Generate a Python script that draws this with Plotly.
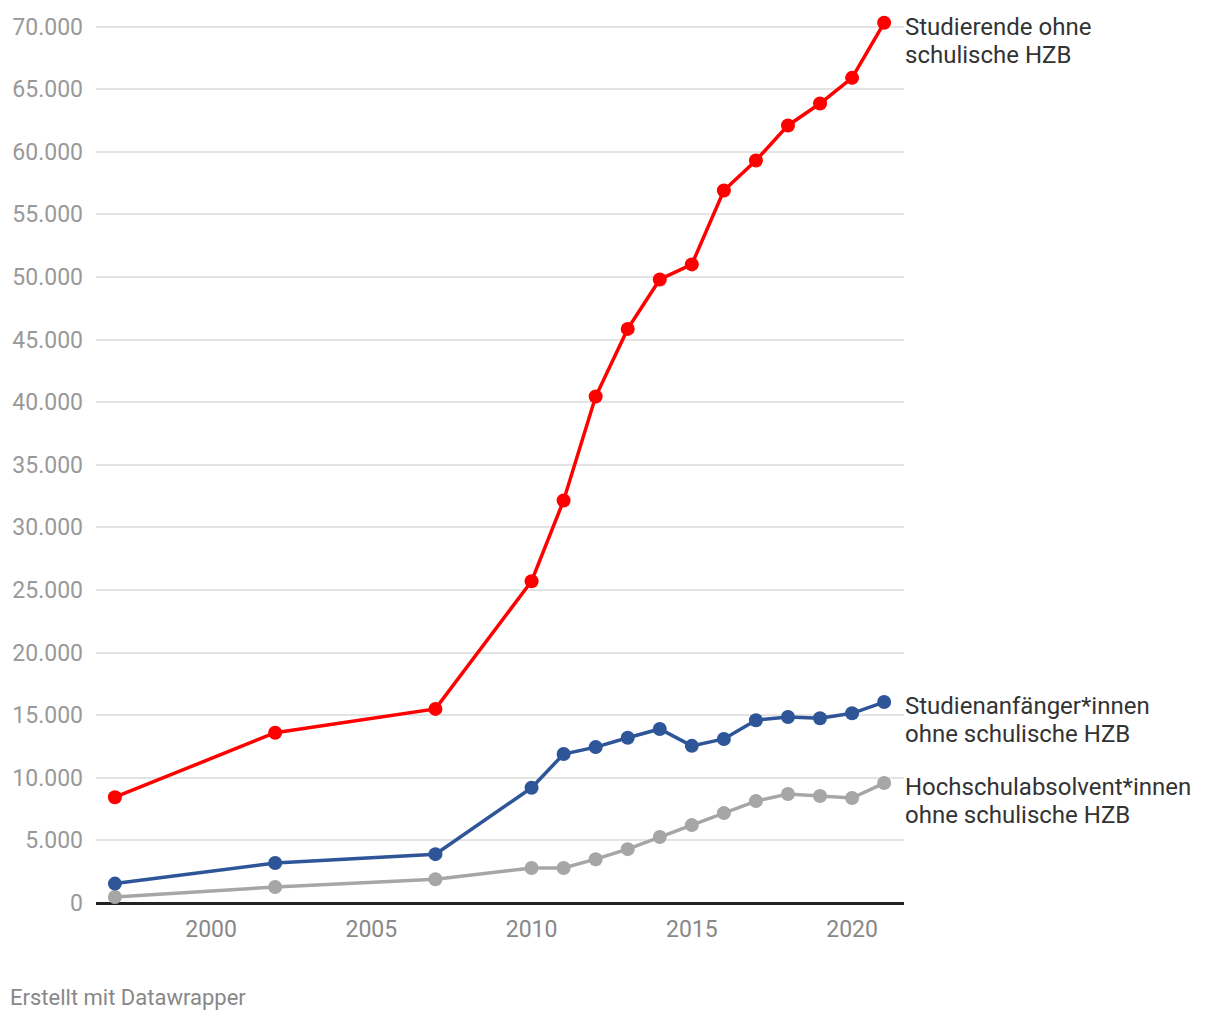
import plotly.graph_objects as go

years = [1997, 2002, 2007, 2010, 2011, 2012, 2013, 2014, 2015, 2016, 2017, 2018, 2019, 2020, 2021]
studierende = [8450, 13600, 15500, 25700, 32150, 40450, 45850, 49800, 51000, 56900, 59300, 62100, 63850, 65900, 70300]
anfaenger = [1550, 3200, 3900, 9200, 11900, 12450, 13200, 13900, 12550, 13100, 14600, 14850, 14750, 15150, 16050]
absolventen = [480, 1280, 1900, 2800, 2800, 3500, 4300, 5270, 6220, 7180, 8140, 8700, 8540, 8380, 9580]

series = [
    (["Studierende ohne", "schulische HZB"], studierende, "#ff0000"),
    (["Studienanfänger*innen", "ohne schulische HZB"], anfaenger, "#2d5598"),
    (["Hochschulabsolvent*innen", "ohne schulische HZB"], absolventen, "#a6a6a6"),
]

fig = go.Figure()
for lines, vals, col in series[::-1]:
    fig.add_trace(go.Scatter(
        x=years, y=vals, mode="lines+markers", name=" ".join(lines),
        line=dict(color=col, width=3.5), marker=dict(color=col, size=14),
        cliponaxis=False, showlegend=False,
    ))

for lines, vals, col in series:
    for i, txt in enumerate(lines):
        fig.add_annotation(
            x=1, xref="paper", y=vals[-1], yref="y", text=txt, showarrow=False,
            xanchor="left", yanchor="middle", align="left", xshift=-1,
            yshift=-4 - 28 * i,
            font=dict(family="Roboto", size=24, color="#333333"),
        )

fig.add_annotation(
    x=0, xref="paper", xanchor="left", y=0, yref="paper", yanchor="middle",
    xshift=-88, yshift=-94, text="Erstellt mit Datawrapper", showarrow=False,
    font=dict(family="Roboto", size=22, color="#888888"),
)

fig.update_layout(
    width=1204, height=1004,
    margin=dict(l=88, r=308, t=5.5, b=109),
    paper_bgcolor="white", plot_bgcolor="white",
    separators=",.",
    font=dict(family="Roboto", size=23, color="#999999"),
    xaxis=dict(
        range=[1996.41, 2021.62], tickvals=[2000, 2005, 2010, 2015, 2020],
        showgrid=False, zeroline=False, showline=False, ticks="",
        ticklabelstandoff=10,
        tickfont=dict(family="Roboto", size=23, color="#888888"),
    ),
    yaxis=dict(
        range=[0, 71000], tickvals=list(range(0, 70001, 5000)), tickformat=",.0f",
        showgrid=True, gridcolor="#e3e3e3", gridwidth=1.5,
        zeroline=True, zerolinecolor="#222222", zerolinewidth=2.5,
        ticks="", ticklabelstandoff=12,
        tickfont=dict(family="Roboto", size=23, color="#999999"),
    ),
)

fig.write_html("out.html")
